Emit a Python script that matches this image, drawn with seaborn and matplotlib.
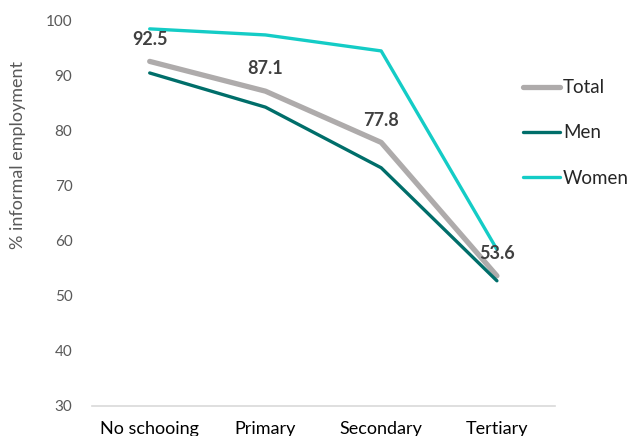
import pandas as pd
import seaborn as sns
import matplotlib.pyplot as plt

# Data
levels = ['No schooing', 'Primary', 'Secondary', 'Tertiary']
total = [92.5, 87.1, 77.8, 53.6]
men = [90.4, 84.2, 73.2, 52.7]
women = [98.4, 97.3, 94.4, 58.4]

sns.set_theme(style='white')
plt.rcParams['font.family'] = ['Lato', 'DejaVu Sans']

fig = plt.figure(figsize=(6.29, 4.36), dpi=100)
ax = fig.add_axes([0.146, 0.069, 0.736, 0.885])

series = [('Total', total, '#AEABAB', 3.8),
          ('Men', men, '#006E6A', 2.4),
          ('Women', women, '#14CCC6', 2.4)]

for name, vals, col, lw in series:
    df = pd.DataFrame({'level': levels, 'value': vals})
    sns.lineplot(data=df, x='level', y='value', ax=ax, color=col,
                 linewidth=lw, label=name, sort=False)

# value labels above the Total line
for i, v in enumerate(total):
    ax.annotate(f'{v}', (i, v), xytext=(0, 10), textcoords='offset points',
                ha='center', va='bottom', fontsize=13, fontweight='bold',
                color='#404040', zorder=10)

ax.set_xlim(-0.5, 3.5)
ax.set_ylim(30, 100)
ax.set_yticks(range(30, 101, 10))
ax.set_xlabel('')
ax.set_ylabel('% informal employment', color='#595959', fontsize=13)
ax.yaxis.set_label_coords(-0.143, 0.65)

for s in ['top', 'right', 'left']:
    ax.spines[s].set_visible(False)
ax.spines['bottom'].set_color('#D9D9D9')
ax.spines['bottom'].set_linewidth(1.2)
ax.tick_params(axis='y', colors='#595959', labelsize=11, length=0, pad=14)
ax.tick_params(axis='x', colors='#000000', labelsize=13, length=0, pad=11)

ax.get_legend().remove()
handles, labels = ax.get_legend_handles_labels()
fig.legend(handles, labels, loc='upper left', bbox_to_anchor=(0.831, 0.818),
           frameon=False, fontsize=13.5, handlelength=2.0, handletextpad=0.15,
           labelspacing=1.5, borderpad=0, borderaxespad=0)

fig.savefig('out.png', dpi=100)
